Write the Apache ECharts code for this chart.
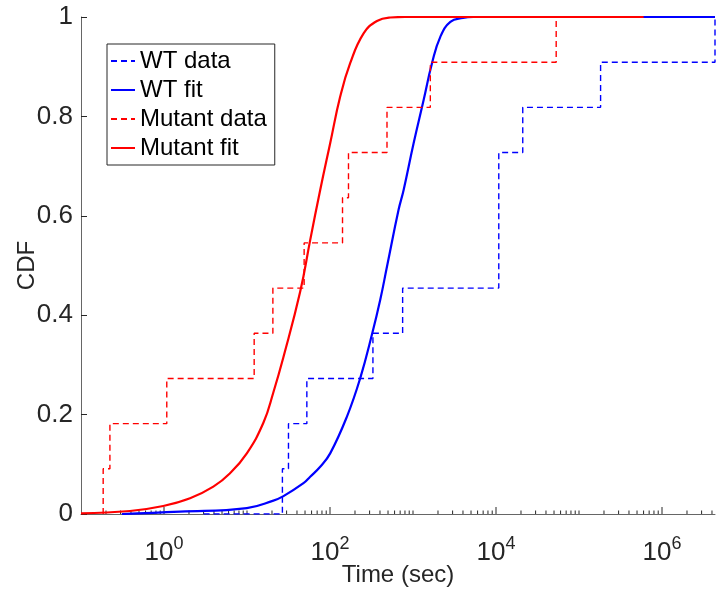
<!DOCTYPE html>
<html>
<head>
<meta charset="utf-8">
<script src="https://cdn.jsdelivr.net/npm/echarts@6/dist/echarts.min.js"></script>
<style>
  html, body { margin: 0; padding: 0; background: #fff; }
  #chart { width: 717px; height: 590px; }
</style>
</head>
<body>
<div id="chart"></div>
<script>
// ---- Data ----
const seriesNames = ['WT data', 'WT fit', 'Mutant data', 'Mutant fit'];

// Empirical CDF steps (x = time in sec where the step occurs, F = CDF after the step)
const wtDataX = [3.0, 26.7, 31.6, 52.6, 329, 750, 10800, 21000, 182000, 4350000];
const wtDataF = [0, 0.0909, 0.1818, 0.2727, 0.3636, 0.4545, 0.7273, 0.8182, 0.9091, 1.0];

const mutDataX = [0.185, 0.185, 0.223, 1.08, 12.2, 20.5, 48.8, 141.5, 167, 486, 1617, 53100];
const mutDataF = [0, 0.0909, 0.1818, 0.2727, 0.3636, 0.4545, 0.5455, 0.6364, 0.7273, 0.8182, 0.9091, 1.0];

// Fitted CDF curves
const wtFitX = [0.311, 1.56, 9.95, 20.8, 27.5, 47.9, 57.7, 76.2, 100.5, 160, 231, 323, 403, 486, 670, 771, 1017, 1343, 1694, 2133, 2818, 4000, 5340, 4350000];
const wtFitF = [0.0, 0.0046, 0.012, 0.027, 0.036, 0.062, 0.075, 0.095, 0.122, 0.196, 0.273, 0.3636, 0.431, 0.498, 0.612, 0.652, 0.746, 0.833, 0.907, 0.960, 0.990, 0.998, 1.0, 1.0];

const mutFitX = [0.1, 0.389, 0.98, 2.06, 3.93, 6.25, 9.95, 15.8, 20.8, 27.5, 43.7, 57.7, 76.2, 100.5, 132.7, 175, 254, 368, 532, 800, 600000];
const mutFitF = [0.0014, 0.006, 0.016, 0.0316, 0.055, 0.082, 0.122, 0.184, 0.245, 0.316, 0.447, 0.551, 0.652, 0.746, 0.840, 0.907, 0.967, 0.992, 0.999, 1.0, 1.0];

// Axis settings
const xMin = 0.1, xMax = 4350000;
const yTicks = [0, 0.2, 0.4, 0.6, 0.8, 1];

// ---- Build chart ----
function pairs(xs, ys) { return xs.map((x, i) => [x, ys[i]]); }

// tick positions for the log axis (majors at labelled decades, minors elsewhere)
const xTickVals = [];
for (let k = -1; k <= 6; k++) {
  for (let m = 1; m <= 9; m++) {
    const v = m * Math.pow(10, k);
    if (v > xMin * 1.0001 && v <= xMax) {
      const major = (m === 1 && k >= 0 && k % 2 === 0);
      xTickVals.push([v, 0, major ? 1 : 0]);
    }
  }
}

const FONT = 'Liberation Sans, Arial, Helvetica, sans-serif';
const TXT = '#262626';

const chart = echarts.init(document.getElementById('chart'), null, { renderer: 'canvas' });
chart.setOption({
  animation: false,
  backgroundColor: '#ffffff',
  textStyle: { fontFamily: FONT },
  grid: { left: 81, right: 2, top: 17, bottom: 76, containLabel: false, outerBoundsMode: 'none' },
  legend: {
    data: seriesNames,
    orient: 'vertical',
    left: 107, top: 44,
    padding: [4, 8, 4, 3],
    itemWidth: 24, itemHeight: 14, itemGap: 3,
    backgroundColor: '#ffffff',
    borderColor: '#262626', borderWidth: 1, borderRadius: 0,
    itemStyle: { opacity: 0 },
    textStyle: { fontFamily: FONT, fontSize: 24, color: '#000', lineHeight: 26 }
  },
  xAxis: {
    type: 'log', logBase: 10, min: xMin, max: xMax,
    splitNumber: 8,
    name: 'Time (sec)', nameLocation: 'middle', nameGap: 49, nameMoveOverlap: false,
    nameTextStyle: { fontFamily: FONT, fontSize: 24, color: TXT },
    axisLine: { show: true, onZero: false, lineStyle: { color: '#666', width: 1 } },
    axisTick: { show: false },
    splitLine: { show: false },
    axisLabel: {
      margin: 21, color: TXT, fontFamily: FONT, fontSize: 26,
      showMinLabel: true, showMaxLabel: true,
      formatter: function (v) {
        const e = Math.log10(v);
        const r = Math.round(e);
        if (Math.abs(e - r) < 1e-6 && r >= 0 && r % 2 === 0) return '{b|10}{s|' + r + '}';
        return '';
      },
      rich: {
        b: { fontFamily: FONT, fontSize: 26, color: TXT },
        s: { fontFamily: FONT, fontSize: 18, color: TXT, padding: [0, 0, 17, 0] }
      }
    }
  },
  yAxis: {
    type: 'value', min: 0, max: 1, interval: 0.2,
    name: 'CDF', nameLocation: 'middle', nameGap: 42, nameMoveOverlap: false,
    nameTextStyle: { fontFamily: FONT, fontSize: 24, color: TXT },
    axisLine: { show: true, onZero: false, lineStyle: { color: '#666', width: 1 } },
    axisTick: { show: true, inside: true, length: 6, lineStyle: { color: TXT, width: 1 } },
    splitLine: { show: false },
    axisLabel: {
      margin: 8, color: TXT, fontFamily: FONT, fontSize: 26,
      formatter: function (v) { return yTicks.indexOf(Math.round(v * 10) / 10) >= 0 ? String(Math.round(v * 10) / 10) : ''; }
    }
  },
  series: [
    {
      name: 'WT data', type: 'line', step: 'end', symbol: 'none',
      data: pairs(wtDataX, wtDataF),
      lineStyle: { color: '#0000ff', width: 1.4, type: [6, 4] },
      itemStyle: { color: '#0000ff' }
    },
    {
      name: 'WT fit', type: 'line', symbol: 'none', smooth: 0.45,
      data: pairs(wtFitX, wtFitF),
      lineStyle: { color: '#0000ff', width: 2.2 },
      itemStyle: { color: '#0000ff' }
    },
    {
      name: 'Mutant data', type: 'line', step: 'end', symbol: 'none',
      data: pairs(mutDataX, mutDataF),
      lineStyle: { color: '#ff0000', width: 1.4, type: [6, 4] },
      itemStyle: { color: '#ff0000' }
    },
    {
      name: 'Mutant fit', type: 'line', symbol: 'none', smooth: 0.45,
      data: pairs(mutFitX, mutFitF),
      lineStyle: { color: '#ff0000', width: 2.2 },
      itemStyle: { color: '#ff0000' }
    },
    {
      name: 'xticks', type: 'custom', silent: true, z: 1,
      data: xTickVals,
      renderItem: function (params, api) {
        const p = api.coord([api.value(0), api.value(1)]);
        const len = api.value(2) ? 7 : 3.5;
        return {
          type: 'line',
          shape: { x1: p[0], y1: p[1], x2: p[0], y2: p[1] - len },
          style: { stroke: TXT, lineWidth: 1 }
        };
      }
    }
  ]
});
</script>
</body>
</html>
